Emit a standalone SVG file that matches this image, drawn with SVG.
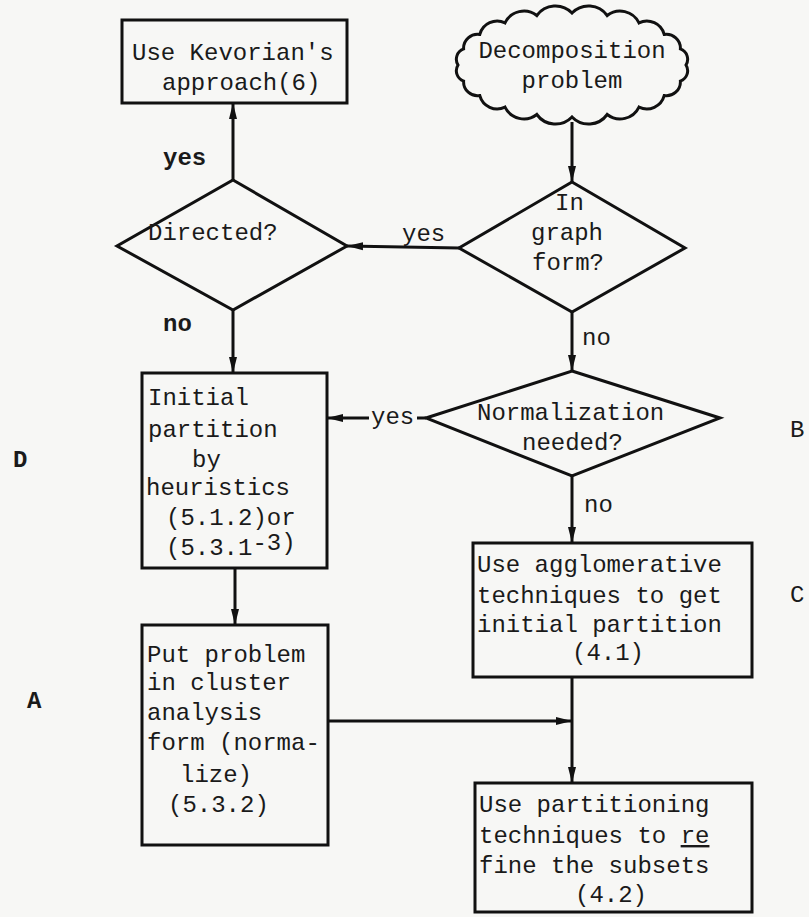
<svg xmlns="http://www.w3.org/2000/svg" width="809" height="917" viewBox="0 0 809 917">
<style>
  .bg{fill:#f7f7f5}
  .box{fill:none;stroke:#111;stroke-width:3}
  .ln{fill:none;stroke:#111;stroke-width:3}
  text{font-family:"Liberation Mono","Courier New",monospace;font-size:24px;fill:#1a1a1a}
  .b{font-weight:bold}
  .mid{text-anchor:middle}
</style>
<defs>
  <marker id="ah" markerUnits="userSpaceOnUse" markerWidth="16" markerHeight="10" viewBox="0 0 16 10" refX="16" refY="5" orient="auto">
    <path d="M0,1 L16,5 L0,9 z" fill="#111"/>
  </marker>
</defs>
<rect class="bg" x="0" y="0" width="809" height="917"/>

<g id="kevorian">
  <rect class="box" x="122" y="20" width="225" height="83"/>
  <text x="132" y="60">Use Kevorian's</text>
  <text x="162" y="90">approach(6)</text>
</g>

<g id="decomposition">
  <path class="box" d="M686,65 A11,11 0 0 1 680.4,81.1 A14,14 0 0 1 664.2,95.6 A18,18 0 0 1 639,107.1 A21,21 0 0 1 607.2,114.5 A23,23 0 0 1 572,117 A23,23 0 0 1 536.8,114.5 A21,21 0 0 1 505,107.1 A18,18 0 0 1 479.8,95.6 A14,14 0 0 1 463.6,81.1 A11,11 0 0 1 458,65 A11,11 0 0 1 463.6,48.9 A14,14 0 0 1 479.8,34.4 A18,18 0 0 1 505,22.9 A21,21 0 0 1 536.8,15.5 A23,23 0 0 1 572,13 A23,23 0 0 1 607.2,15.5 A21,21 0 0 1 639,22.9 A18,18 0 0 1 664.2,34.4 A14,14 0 0 1 680.4,48.9 A11,11 0 0 1 686,65 z"/>
  <text class="mid" x="572" y="58">Decomposition</text>
  <text class="mid" x="572" y="88">problem</text>
</g>

<g id="in-graph">
  <path class="box" d="M572,182 L685,248 L572,312 L459,248 z"/>
  <text x="555" y="210">In</text>
  <text x="531" y="240">graph</text>
  <text x="532" y="270">form?</text>
</g>

<g id="directed">
  <path class="box" d="M233,180 L347,246 L233,310 L117,246 z"/>
  <text x="148" y="240">Directed?</text>
</g>

<g id="normalization">
  <path class="box" d="M572,371 L720,418 L572,476 L426,418 z"/>
  <text x="477" y="420">Normalization</text>
  <text x="522" y="450">needed?</text>
</g>

<g id="initial-partition">
  <rect class="box" x="142" y="373" width="185" height="195"/>
  <text x="148" y="405">Initial</text>
  <text x="148" y="437">partition</text>
  <text x="192" y="467">by</text>
  <text x="146" y="495">heuristics</text>
  <text x="166" y="525">(5.1.2)or</text>
  <text x="166" y="555">(5.3.1<tspan dy="-5">-3)</tspan></text>
</g>

<g id="agglomerative">
  <rect class="box" x="473" y="543" width="279" height="134"/>
  <text x="477" y="572">Use agglomerative</text>
  <text x="477" y="603">techniques to get</text>
  <text x="477" y="632">initial partition</text>
  <text x="572" y="660">(4.1)</text>
</g>

<g id="put-problem">
  <rect class="box" x="142" y="625" width="186" height="220"/>
  <text x="147" y="662">Put problem</text>
  <text x="147" y="690">in cluster</text>
  <text x="147" y="720">analysis</text>
  <text x="147" y="750">form (norma-</text>
  <text x="180" y="782">lize)</text>
  <text x="168" y="812">(5.3.2)</text>
</g>

<g id="partitioning">
  <rect class="box" x="475" y="783" width="277" height="129"/>
  <text x="479" y="812">Use partitioning</text>
  <text x="479" y="843">techniques to <tspan text-decoration="underline">re</tspan></text>
  <text x="479" y="873">fine the subsets</text>
  <text x="575" y="902">(4.2)</text>
</g>

<g id="connectors">
  <path class="ln" d="M572,122 L572,182" marker-end="url(#ah)"/>
  <path class="ln" d="M459,248 L347,246" marker-end="url(#ah)"/>
  <path class="ln" d="M233,180 L233,103" marker-end="url(#ah)"/>
  <path class="ln" d="M233,310 L233,373" marker-end="url(#ah)"/>
  <path class="ln" d="M572,312 L572,371" marker-end="url(#ah)"/>
  <path class="ln" d="M426,418 L417,418"/>
  <path class="ln" d="M369,418 L327,418" marker-end="url(#ah)"/>
  <path class="ln" d="M572,476 L572,543" marker-end="url(#ah)"/>
  <path class="ln" d="M235,568 L235,625" marker-end="url(#ah)"/>
  <path class="ln" d="M572,677 L572,783" marker-end="url(#ah)"/>
  <path class="ln" d="M328,721 L572,721" marker-end="url(#ah)"/>
</g>

<g id="labels">
  <text class="b" x="163" y="165">yes</text>
  <text class="b" x="163" y="331">no</text>
  <text x="402" y="241">yes</text>
  <text x="582" y="345">no</text>
  <text x="371" y="424">yes</text>
  <text x="584" y="512">no</text>
  <text class="b" x="13" y="467">D</text>
  <text class="b" x="27" y="708">A</text>
  <text x="790" y="437">B</text>
  <text x="790" y="602">C</text>
</g>
</svg>
